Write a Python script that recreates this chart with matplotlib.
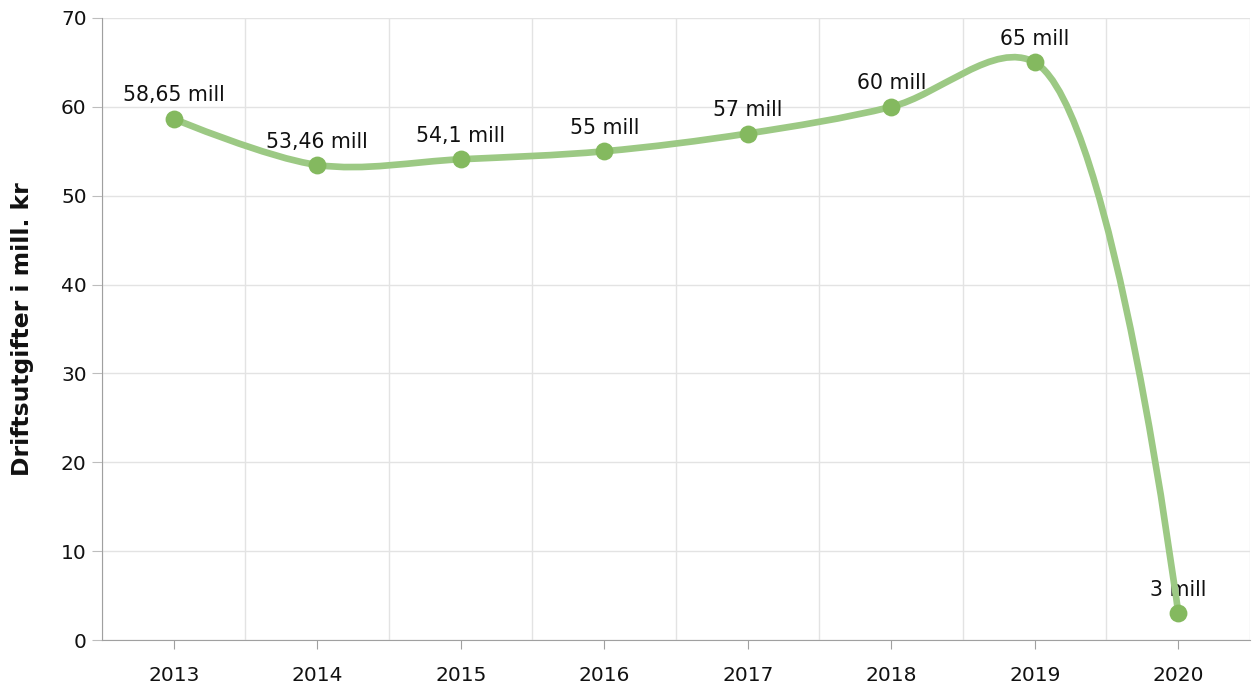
import numpy as np
import matplotlib.pyplot as plt
from matplotlib.path import Path
from matplotlib.patches import PathPatch

years = ["2013", "2014", "2015", "2016", "2017", "2018", "2019", "2020"]
values = [58.65, 53.46, 54.1, 55, 57, 60, 65, 3]
labels = ["58,65 mill", "53,46 mill", "54,1 mill", "55 mill", "57 mill", "60 mill", "65 mill", "3 mill"]

LINE_COLOR = "#9cc984"
MARKER_COLOR = "#84b95f"
GRID_COLOR = "#e3e3e3"
AXIS_COLOR = "#a0a0a0"


def spline_path(ax, xs, ys, alpha=0.5):
    # centripetal catmull-rom in pixel space (same idea as d3.curveCatmullRom)
    pts = ax.transData.transform(np.column_stack([xs, ys]))
    n = len(pts)
    verts = [tuple(pts[0])]
    codes = [Path.MOVETO]
    for i in range(n - 1):
        p1, p2 = pts[i], pts[i + 1]
        p0 = pts[i - 1] if i > 0 else p1
        p3 = pts[i + 2] if i + 2 < n else p2
        l01 = np.hypot(*(p1 - p0))
        l12 = np.hypot(*(p2 - p1))
        l23 = np.hypot(*(p3 - p2))
        c1, c2 = p1.copy(), p2.copy()
        if l01 > 1e-9:
            a = 2 * l01 ** (2 * alpha) + 3 * l01 ** alpha * l12 ** alpha + l12 ** (2 * alpha)
            m = 3 * l01 ** alpha * (l01 ** alpha + l12 ** alpha)
            c1 = (p1 * a - p0 * l12 ** (2 * alpha) + p2 * l01 ** (2 * alpha)) / m
        if l23 > 1e-9:
            b = 2 * l23 ** (2 * alpha) + 3 * l23 ** alpha * l12 ** alpha + l12 ** (2 * alpha)
            m = 3 * l23 ** alpha * (l23 ** alpha + l12 ** alpha)
            c2 = (p2 * b + p1 * l23 ** (2 * alpha) - p3 * l12 ** (2 * alpha)) / m
        verts += [tuple(c1), tuple(c2), tuple(p2)]
        codes += [Path.CURVE4] * 3
    verts = ax.transData.inverted().transform(np.array(verts))
    return Path(verts, codes)


fig = plt.figure(figsize=(12.53, 6.89), dpi=100)
ax = fig.add_axes([0.0814, 0.0711, 0.9162, 0.9028])

x = np.arange(len(years))
ax.set_xlim(-0.5, len(years) - 0.5)
ax.set_ylim(0, 70)

ax.add_patch(PathPatch(spline_path(ax, x, values), facecolor="none", edgecolor=LINE_COLOR,
                       lw=4.8, capstyle="round", zorder=4))
ax.scatter(x, values, s=165, color=MARKER_COLOR, zorder=5, linewidths=0)

for xi, v, lab in zip(x, values, labels):
    ax.annotate(lab, (xi, v), xytext=(0, 12.5), textcoords="offset points",
                ha="center", va="baseline", fontsize=14.8, color="#111111", zorder=3)

ax.set_xticks(x)
ax.set_xticklabels(years)
ax.set_xticks(np.arange(-0.5, len(years)), minor=True)
ax.set_yticks(np.arange(0, 71, 10))

ax.grid(True, axis="y", color=GRID_COLOR, lw=1)
ax.grid(True, axis="x", which="minor", color=GRID_COLOR, lw=1)
ax.set_axisbelow(True)
ax.tick_params(axis="x", which="minor", length=0)
ax.tick_params(axis="x", which="major", length=6.5, color=AXIS_COLOR, labelsize=14.5, pad=12,
               labelcolor="#111111")
ax.tick_params(axis="y", length=7, color="#bdbdbd", labelsize=14.5, pad=4, labelcolor="#111111")

for s in ["top", "right"]:
    ax.spines[s].set_visible(False)
ax.spines["left"].set_color(AXIS_COLOR)
ax.spines["bottom"].set_color(AXIS_COLOR)

ax.set_ylabel("Driftsutgifter i mill. kr", fontsize=16.9, fontweight="bold", color="#111111")
ax.yaxis.set_label_coords(-0.059, 0.5)

fig.savefig("out.png", dpi=100)
